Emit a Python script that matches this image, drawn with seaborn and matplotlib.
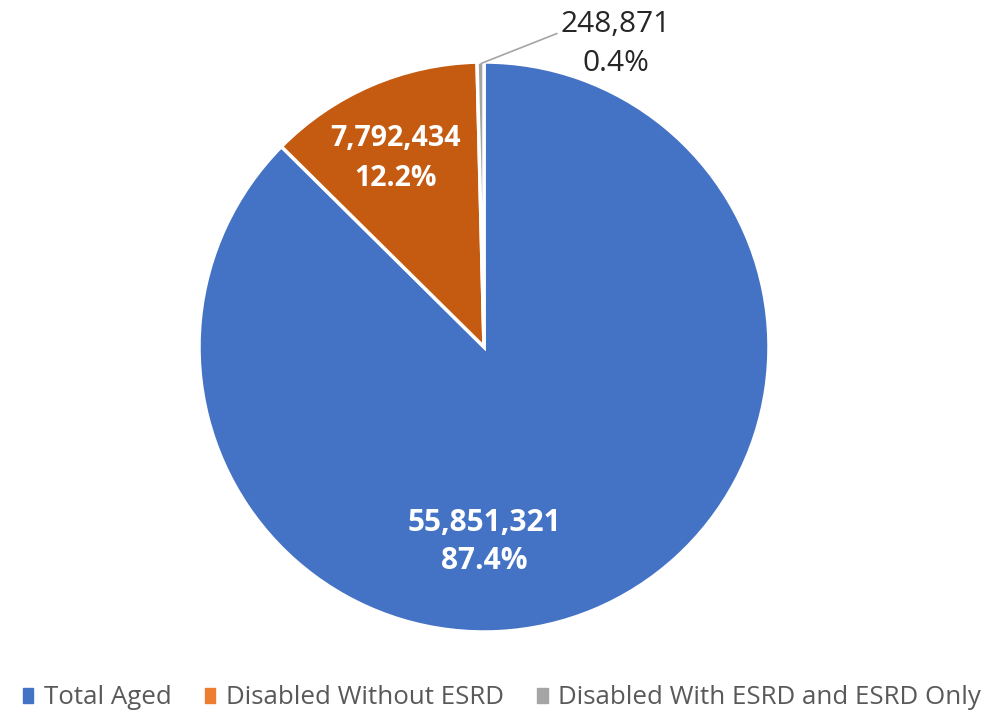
import matplotlib
matplotlib.use("Agg")
import matplotlib.pyplot as plt
import matplotlib.patches as mpatches
import seaborn as sns

categories = ["Total Aged", "Disabled Without ESRD", "Disabled With ESRD and ESRD Only"]
values = [55851321, 7792434, 248871]
pct_labels = ["87.4%", "12.2%", "0.4%"]
slice_colors = ["#4472C4", "#C55A11", "#A5A5A5"]
legend_colors = ["#4472C4", "#ED7D31", "#A5A5A5"]

sns.set_theme(style="white")
plt.rcParams['font.family'] = ['Open Sans', 'DejaVu Sans']

fig = plt.figure(figsize=(9.98, 7.14), dpi=100)
cx, cy, r = 484 / 998, 1 - 347 / 714, 285
ax = fig.add_axes([cx - r / 998, cy - r / 714, 2 * r / 998, 2 * r / 714])
wedges, _ = ax.pie(values, colors=slice_colors, startangle=90, counterclock=False,
                   radius=1, wedgeprops=dict(edgecolor="white", linewidth=2.5))
ax.set_xlim(-1, 1)
ax.set_ylim(-1, 1)
ax.set_aspect("equal")
ax.axis("off")

fmt = lambda v: f"{v:,}"
ax.text(0.0, -0.684, f"{fmt(values[0])}\n{pct_labels[0]}", ha="center", va="center",
        color="white", fontsize=21.5, fontweight="bold", linespacing=1.32)
ax.text(-0.309, 0.660, f"{fmt(values[1])}\n{pct_labels[1]}", ha="center", va="center",
        color="white", fontsize=20.5, fontweight="bold", linespacing=1.5)
ax.text(0.463, 1.062, f"{fmt(values[2])}\n{pct_labels[2]}", ha="center", va="center",
        color="#262626", fontsize=21.5, linespacing=1.45, clip_on=False)
ax.plot([-0.01, 0.256], [0.995, 1.10], color="#A5A5A5", lw=1.2, clip_on=False)

handles = [mpatches.Patch(color=c, label=l) for c, l in zip(legend_colors, categories)]
fig.legend(handles=handles, loc="center", bbox_to_anchor=(0.503, 1 - 698 / 714), ncol=3,
           frameon=False, fontsize=18.6, handlelength=0.4, handleheight=0.55,
           handletextpad=0.4, columnspacing=1.3, labelcolor="#595959")

fig.savefig("out.png", dpi=100)
